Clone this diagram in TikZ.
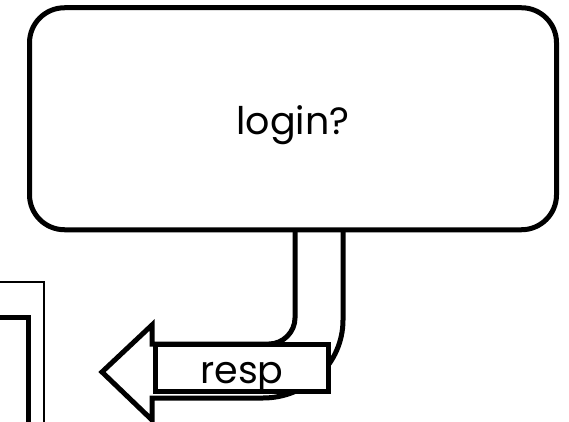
\documentclass[tikz,border=0pt]{standalone}
\usepackage{fontspec}
\setmainfont{Poppins}
\begin{document}
\begin{tikzpicture}[x=1pt,y=-1pt,
  thickline/.style={line width=5pt},
  bigbox/.style={draw, thickline, rounded corners=35pt, minimum width=527pt, minimum height=222pt, inner sep=0pt},
  labelbox/.style={draw, thickline, fill=white, minimum width=173pt, minimum height=47pt, inner sep=0pt},
  txt/.style={font=\fontsize{38}{40}\selectfont, anchor=base, inner sep=0pt}]
\useasboundingbox (0,0) rectangle (569,422);
\clip (0,0) rectangle (569,422);
% left partial frames
\draw[line width=1.5pt] (-5,282) -- (44,282) -- (44,430);
\draw[line width=5pt] (-5,317) -- (28,317) -- (28,430);
% main box
\node[bigbox] (login) at (293,118.75) {};
\node[txt] (logintext) at (293,135) {login?};
% tube connector and fat arrow
\coordinate (tin) at (295,230);
\coordinate (tout) at (343,230);
\draw[thickline] (tin) -- (295,318) .. controls (295,332) and (283,344) .. (269,344) -- (152,344) -- (152,325) -- (102,372) -- (152,420) -- (152,398) -- (263,398) .. controls (307,398) and (343,363) .. (343,320) -- (tout);
% label box
\node[labelbox] (resp) at (241.5,367.5) {};
\node[txt] (resptext) at (242,383) {resp};
\end{tikzpicture}
\end{document}
